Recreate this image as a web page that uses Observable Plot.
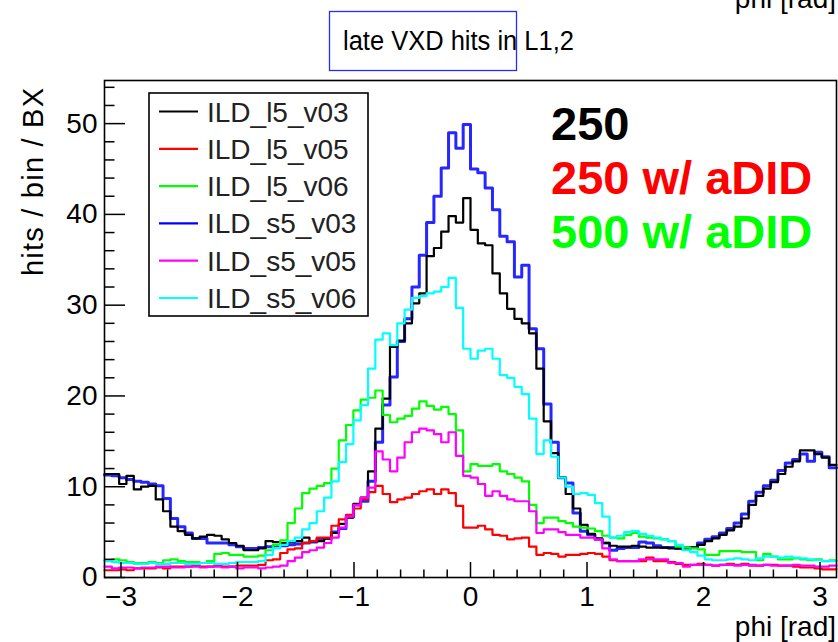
<!DOCTYPE html>
<html>
<head>
<meta charset="utf-8">
<script src="https://cdn.jsdelivr.net/npm/d3@7"></script>
<script src="https://cdn.jsdelivr.net/npm/@observablehq/plot@0.6"></script>
<style>
  html, body { margin: 0; padding: 0; background: #fff; }
  #chart { position: relative; width: 838px; height: 642px; overflow: hidden; }
</style>
</head>
<body>
<div id="chart"></div>
<script>
// ---------------- data (100 bins over -pi .. pi) ----------------
const seriesNames  = ["ILD_l5_v03", "ILD_l5_v05", "ILD_l5_v06", "ILD_s5_v03", "ILD_s5_v05", "ILD_s5_v06"];
const seriesColors = ["#000000", "#ff0000", "#00ff00", "#0000ff", "#ff00ff", "#00ffff"];

const ILD_l5_v03 = [
  11.4, 11.4, 10.3, 11.2, 9.7, 10.0, 10.1, 8.6, 7.3, 5.6,
  5.1, 4.7, 4.3, 4.5, 4.7, 4.6, 4.2, 3.8, 3.5, 3.0,
  3.0, 3.2, 4.0, 3.9, 3.8, 3.9, 4.0, 4.4, 4.0, 4.0,
  4.3, 4.9, 5.9, 6.6, 8.1, 8.8, 11.7, 16.4, 19.7, 25.4,
  26.1, 28.0, 30.2, 31.3, 35.4, 36.3, 38.1, 39.8, 39.1, 41.8,
  38.3, 36.8, 36.6, 33.5, 31.3, 29.6, 28.5, 28.0, 26.9, 23.0,
  17.2, 13.7, 11.0, 9.2, 7.6, 5.8, 4.8, 4.3, 3.8, 3.5,
  3.4, 3.4, 3.5, 3.4, 3.3, 3.3, 3.3, 3.2, 3.2, 3.3,
  3.3, 3.6, 4.0, 4.3, 4.7, 5.2, 5.6, 6.5, 8.0, 9.0,
  9.8, 10.5, 11.4, 12.2, 12.8, 14.0, 14.0, 13.6, 13.2, 12.4
];
const ILD_l5_v05 = [
  0.8, 0.8, 0.9, 0.8, 1.0, 1.0, 1.0, 1.1, 1.0, 1.2,
  1.2, 1.2, 1.3, 1.2, 1.2, 1.3, 1.2, 1.2, 1.3, 1.3,
  1.3, 1.4, 1.9, 2.0, 2.7, 3.1, 3.2, 3.8, 4.0, 4.4,
  4.4, 5.7, 6.4, 6.9, 7.6, 8.6, 9.4, 10.1, 9.2, 8.3,
  8.6, 8.8, 9.2, 9.5, 9.7, 9.2, 9.7, 9.3, 7.9, 5.5,
  5.5, 5.7, 5.3, 4.7, 4.6, 4.2, 4.3, 4.4, 3.4, 2.5,
  2.7, 2.6, 2.3, 2.5, 2.5, 2.6, 2.7, 2.6, 2.3, 1.9,
  1.8, 1.8, 1.8, 1.8, 2.2, 1.8, 1.8, 1.7, 1.5, 1.4,
  1.4, 1.5, 1.4, 1.3, 1.4, 1.5, 1.4, 1.5, 1.3, 1.3,
  1.4, 1.4, 1.3, 1.3, 1.2, 1.1, 1.1, 1.0, 0.9, 0.9
];
const ILD_l5_v06 = [
  1.9, 2.0, 1.9, 1.7, 1.6, 1.6, 1.7, 1.6, 1.9, 2.0,
  1.8, 1.7, 1.7, 1.6, 1.8, 2.6, 2.7, 2.5, 2.5, 2.3,
  2.3, 2.4, 3.0, 3.6, 4.1, 6.0, 7.6, 9.3, 9.8, 10.1,
  10.4, 12.0, 15.1, 16.8, 18.4, 19.6, 19.8, 20.6, 17.9, 17.1,
  17.5, 17.8, 18.6, 19.4, 18.9, 18.5, 18.8, 18.0, 16.2, 11.7,
  12.5, 12.3, 12.3, 12.5, 11.7, 11.4, 11.0, 10.6, 8.0, 6.0,
  6.6, 6.6, 6.2, 6.0, 5.6, 5.5, 5.4, 5.1, 4.6, 4.4,
  4.3, 4.7, 4.9, 4.5, 4.4, 4.3, 4.2, 4.0, 3.4, 3.3,
  3.2, 3.1, 2.5, 2.5, 2.9, 2.9, 2.9, 2.8, 2.8, 1.9,
  2.6, 2.3, 2.0, 2.0, 2.1, 2.0, 1.9, 2.0, 1.8, 1.9
];
const ILD_s5_v03 = [
  11.3, 11.2, 11.0, 10.8, 10.6, 10.5, 10.3, 10.1, 8.7, 6.5,
  5.6, 4.9, 4.3, 4.3, 3.8, 3.8, 3.8, 3.6, 3.4, 3.2,
  3.2, 3.3, 3.4, 3.5, 3.5, 3.6, 3.7, 3.8, 3.9, 4.2,
  4.3, 5.0, 5.4, 6.7, 8.0, 8.4, 10.6, 14.9, 19.0, 22.1,
  26.0, 28.5, 32.0, 35.5, 39.1, 42.0, 45.1, 49.0, 47.3, 49.9,
  45.0, 44.6, 42.9, 40.5, 37.6, 37.0, 33.1, 34.4, 27.4, 25.2,
  19.1, 14.9, 11.0, 10.4, 7.1, 5.1, 4.7, 4.2, 3.8, 3.0,
  3.2, 3.3, 3.3, 3.9, 3.8, 3.5, 3.3, 3.3, 3.2, 3.1,
  3.3, 3.8, 4.2, 4.5, 4.9, 5.4, 6.0, 7.0, 8.4, 9.4,
  10.1, 10.7, 11.8, 12.6, 13.0, 13.6, 12.8, 13.8, 13.3, 12.1
];
const ILD_s5_v05 = [
  1.2, 1.0, 1.1, 1.1, 1.0, 1.1, 1.1, 1.2, 1.2, 1.1,
  1.1, 1.2, 1.2, 1.1, 1.2, 1.2, 1.1, 1.2, 1.0, 1.1,
  1.1, 1.0, 1.1, 1.2, 1.3, 1.8, 2.2, 2.8, 3.0, 3.3,
  3.8, 4.4, 5.5, 6.7, 8.0, 8.8, 9.9, 13.9, 13.0, 11.7,
  13.2, 14.9, 16.0, 16.4, 16.2, 15.8, 14.9, 16.0, 13.4, 11.2,
  11.0, 10.3, 9.0, 9.5, 9.0, 8.6, 8.4, 8.4, 7.3, 4.9,
  5.3, 5.3, 5.0, 4.7, 4.7, 4.4, 4.4, 4.2, 3.2, 2.0,
  1.8, 1.8, 1.8, 2.0, 2.0, 2.0, 2.0, 1.6, 1.6, 1.2,
  1.4, 1.4, 1.4, 1.3, 1.4, 1.4, 1.3, 1.4, 1.4, 1.3,
  1.4, 1.3, 1.3, 1.3, 1.4, 1.3, 1.3, 1.2, 1.2, 1.3
];
const ILD_s5_v06 = [
  1.8, 1.7, 1.6, 1.6, 1.5, 1.5, 1.6, 1.5, 1.5, 1.6,
  1.6, 1.5, 1.5, 1.6, 1.6, 1.5, 1.5, 1.6, 1.7, 1.7,
  1.7, 1.8, 2.5, 3.2, 3.6, 4.0, 4.4, 5.3, 6.0, 7.3,
  8.8, 10.6, 12.7, 14.7, 17.3, 19.0, 23.0, 26.2, 26.9, 25.6,
  28.0, 29.5, 30.8, 31.0, 31.3, 31.5, 32.0, 33.0, 29.7, 25.2,
  24.1, 25.0, 25.2, 24.1, 22.3, 22.0, 21.0, 20.2, 17.5, 13.6,
  15.1, 13.3, 11.0, 10.0, 9.2, 9.3, 9.1, 8.2, 6.7, 4.4,
  4.6, 5.0, 5.1, 4.8, 4.6, 4.4, 4.2, 4.0, 3.6, 3.0,
  2.8, 2.4, 2.0, 1.9, 1.9, 2.0, 2.1, 2.0, 1.9, 2.1,
  2.3, 2.3, 2.2, 2.3, 2.2, 2.1, 2.0, 1.9, 1.8, 1.8
];
const seriesValues = [ILD_l5_v03, ILD_l5_v05, ILD_l5_v06, ILD_s5_v03, ILD_s5_v05, ILD_s5_v06];

const xMajorTicks = [-3, -2, -1, 0, 1, 2, 3];
const yMajorTicks = [0, 10, 20, 30, 40, 50];
const titleText = "late VXD hits in L1,2";
const xTitle = "phi [rad]";
const yTitle = "hits / bin / BX";
const annotations = [
  {text: "250", color: "#000000"},
  {text: "250 w/ aDID", color: "#ff0000"},
  {text: "500 w/ aDID", color: "#00ff00"}
];

// ---------------- build ----------------
const xMin = -Math.PI, xMax = Math.PI, nBins = 100, binW = (xMax - xMin) / nBins;
const yMax = 54.75;
const W = 838, H = 642, mL = 104, mR = 2, mT = 80, mB = 65;
const innerW = W - mL - mR, innerH = H - mT - mB;

function stepData(values, name) {
  const pts = values.map((v, i) => ({series: name, x: xMin + i * binW, y: v}));
  pts.push({series: name, x: xMax, y: values[values.length - 1]});
  return pts;
}
const xMinor = d3.range(-15, 16).map(k => k * 0.2).filter(v => v >= xMin && v <= xMax && Math.abs(v - Math.round(v)) > 1e-6);
const yMinor = d3.range(0, 55, 2).filter(v => v % 10 !== 0 && v <= yMax);

const widths = [2.2, 2.2, 2.2, 3, 2.2, 2.2];
const drawOrder = [3, 0, 1, 2, 4, 5];
const lineMarks = drawOrder.map(k => Plot.line(stepData(seriesValues[k], seriesNames[k]), {
  x: "x", y: "y", curve: "step-after", stroke: seriesColors[k], strokeWidth: widths[k],
  strokeOpacity: k === 3 ? 0.85 : 1
}));

const font = '"Liberation Sans", Arial, Helvetica, sans-serif';
const intFmt = d3.format("d");
const chart = Plot.plot({
  width: W, height: H,
  marginLeft: mL, marginRight: mR, marginTop: mT, marginBottom: mB,
  x: {domain: [xMin, xMax]},
  y: {domain: [0, yMax]},
  style: {fontFamily: font, background: "#fff", color: "#000", overflow: "visible"},
  marks: [
    ...lineMarks,
    Plot.tickX(xMinor, {x: d => d, insetTop: innerH - 7.5, stroke: "#000", strokeWidth: 1.5}),
    Plot.tickX(xMajorTicks, {x: d => d, insetTop: innerH - 15, stroke: "#000", strokeWidth: 1.5}),
    Plot.tickY(yMinor, {y: d => d, insetRight: innerW - 10.5, stroke: "#000", strokeWidth: 1.5}),
    Plot.tickY(yMajorTicks, {y: d => d, insetRight: innerW - 21, stroke: "#000", strokeWidth: 1.5}),
    Plot.axisX(xMajorTicks, {tickSize: 0, tickPadding: 9, fontSize: 28, label: null, fill: "#000", tickFormat: intFmt}),
    Plot.axisY(yMajorTicks, {tickSize: 0, tickPadding: 7, fontSize: 28, label: null, fill: "#000", tickFormat: intFmt}),
    Plot.frame({stroke: "#000", strokeWidth: 1.6})
  ]
});
document.getElementById("chart").appendChild(chart);

// ---------------- decorations ----------------
const svg = d3.select(chart);
const g = svg.append("g").attr("font-family", font).attr("text-anchor", "start");

// title with blue box
g.append("rect").attr("x", 329.5).attr("y", 11.5).attr("width", 187).attr("height", 59)
  .attr("fill", "none").attr("stroke", "#2a2aff").attr("stroke-width", 1.3);
g.append("text").attr("x", 343).attr("y", 50).attr("font-size", 27).attr("fill", "#000")
  .attr("text-anchor", "start").attr("textLength", 231).attr("lengthAdjust", "spacingAndGlyphs").text(titleText);

// partially visible label at the very top right (from a neighbouring pad)
g.append("text").attr("x", 836).attr("y", 8).attr("text-anchor", "end").attr("font-size", 28).attr("fill", "#000").text(xTitle);

// axis titles
g.append("text").attr("x", 836).attr("y", 636).attr("text-anchor", "end").attr("font-size", 28).attr("fill", "#000").text(xTitle);
g.append("text").attr("transform", "translate(43,88) rotate(-90)").attr("text-anchor", "end")
  .attr("font-size", 29).attr("fill", "#000").attr("textLength", 188).attr("lengthAdjust", "spacing").text(yTitle);

// annotations
annotations.forEach((a, i) => {
  g.append("text").attr("x", 551).attr("y", 140 + 54 * i).attr("font-size", 47).attr("font-weight", "bold")
    .attr("text-anchor", "start").attr("fill", a.color).text(a.text);
});

// legend
const lg = g.append("g");
lg.append("rect").attr("x", 149).attr("y", 93).attr("width", 219).attr("height", 223)
  .attr("fill", "#fff").attr("stroke", "#000").attr("stroke-width", 1.6);
seriesNames.forEach((name, i) => {
  const cy = 111.5 + 37.3 * i;
  lg.append("line").attr("x1", 159).attr("x2", 198).attr("y1", cy).attr("y2", cy)
    .attr("stroke", seriesColors[i]).attr("stroke-width", 2.2);
  lg.append("text").attr("x", 207).attr("y", cy + 10).attr("font-size", 28).attr("text-anchor", "start")
    .attr("fill", "#222").text(name);
});
</script>
</body>
</html>
